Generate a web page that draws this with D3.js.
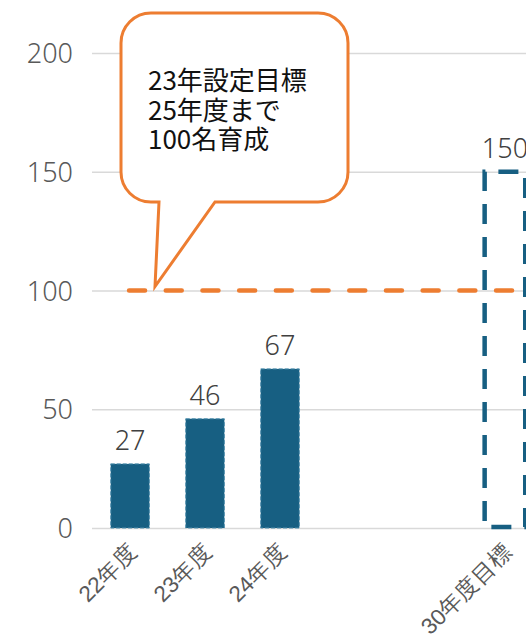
<!DOCTYPE html>
<html>
<head>
<meta charset="utf-8">
<script src="https://cdn.jsdelivr.net/npm/d3@7"></script>
<style>
  body { margin: 0; background: #fff; }
  svg { display: block; font-family: "Noto Sans CJK JP", "Noto Sans", sans-serif; }
  .num { font-family: "Noto Sans", "Noto Sans CJK JP", sans-serif; }
</style>
</head>
<body>
<div id="chart"></div>
<script>
// categories on the x axis (two empty slots between 24 and 30)
const categories = ['22年度', '23年度', '24年度', 'gap1', 'gap2', '30年度目標'];
const tickLabels = ['22年度', '23年度', '24年度', '', '', '30年度目標'];

// actual results
const actualCats = ['22年度', '23年度', '24年度'];
const actualValues = [27, 46, 67];

// target bar
const targetCats = ['30年度目標'];
const targetValues = [150];

// goal line + callout
const goalValue = 100;
const calloutLines = ['23年設定目標', '25年度まで', '100名育成'];

const yTicks = [0, 50, 100, 150, 200];

const width = 526;
const height = 634;

const svg = d3.select('#chart')
    .append('svg')
    .attr('width', width)
    .attr('height', height);

const y = d3.scaleLinear()
    .domain([0, 200])
    .range([528, 53]);

const x = d3.scaleBand()
    .domain(categories)
    .range([92, 543])
    .paddingInner(0.485)
    .paddingOuter(0.25);

// gridlines + y labels
const yAxis = svg.append('g')
    .attr('transform', 'translate(92,0)')
    .call(d3.axisLeft(y).tickValues(yTicks).tickSize(-(width - 92)).tickPadding(19));
yAxis.select('.domain').remove();
yAxis.selectAll('.tick line')
    .attr('stroke', '#d9d9d9')
    .attr('stroke-width', 1.5);
yAxis.selectAll('.tick text')
    .attr('class', 'num')
    .attr('fill', '#595959')
    .attr('font-size', '27px')
    .attr('font-weight', 300)
    .attr('dy', '0.36em');

// x labels, rotated
const xAxis = svg.append('g')
    .attr('transform', `translate(0,${y(0)})`)
    .call(d3.axisBottom(x).tickSize(0).tickFormat((d, i) => tickLabels[i]));
xAxis.select('.domain').remove();
xAxis.selectAll('.tick text')
    .attr('fill', '#595959')
    .attr('font-size', '22.5px')
    .attr('font-weight', 300)
    .attr('text-anchor', 'end')
    .attr('dy', 0)
    .attr('transform', 'translate(6,23) rotate(-45)');

// actual bars
svg.selectAll('.bar')
    .data(actualCats.map((c, i) => ({ c, v: actualValues[i] })))
    .enter().append('rect')
    .attr('class', 'bar')
    .attr('x', d => x(d.c))
    .attr('y', d => y(d.v))
    .attr('width', x.bandwidth())
    .attr('height', d => y(0) - y(d.v))
    .attr('fill', '#175f82')
    .attr('stroke', '#4f8fae')
    .attr('stroke-width', 1)
    .attr('stroke-dasharray', '4,2');

// target bar (dashed outline only), drawn from bottom-left going up
svg.selectAll('.target')
    .data(targetCats.map((c, i) => ({ c, v: targetValues[i] })))
    .enter().append('path')
    .attr('class', 'target')
    .attr('d', d => {
        const x0 = x(d.c) - 1, x1 = x(d.c) + x.bandwidth() + 1;
        const yt = y(d.v), yb = y(0) - 1;
        return `M${x0},${yb}L${x0},${yt}L${x1},${yt}L${x1},${yb}Z`;
    })
    .attr('fill', 'none')
    .attr('stroke', '#175f82')
    .attr('stroke-width', 4.5)
    .attr('stroke-dasharray', '20,13')
    .attr('stroke-dashoffset', 27);

// value labels
const allLabels = actualCats.map((c, i) => ({ c, v: actualValues[i] }))
    .concat(targetCats.map((c, i) => ({ c, v: targetValues[i] })));
svg.selectAll('.val')
    .data(allLabels)
    .enter().append('text')
    .attr('class', 'val num')
    .attr('x', d => x(d.c) + x.bandwidth() / 2)
    .attr('y', d => y(d.v) - 14)
    .attr('text-anchor', 'middle')
    .attr('font-size', '27px')
    .attr('font-weight', 300)
    .attr('fill', '#404040')
    .text(d => d.v);

// goal line
const lineX0 = x(categories[0]) + x.bandwidth() / 2 - 1;
svg.append('line')
    .attr('x1', lineX0)
    .attr('x2', width + 10)
    .attr('y1', y(goalValue))
    .attr('y2', y(goalValue))
    .attr('stroke', '#ed7d31')
    .attr('stroke-width', 4.5)
    .attr('stroke-linecap', 'round')
    .attr('stroke-dasharray', '16,20.7');

// callout bubble
const tipY = y(goalValue) - 4;
const bx0 = 121, bx1 = 348, by0 = 13, by1 = 202, r = 30;
const px0 = 159, px1 = 215;
const tipX = 155;
const bubble = d3.path();
bubble.moveTo(bx0 + r, by0);
bubble.lineTo(bx1 - r, by0);
bubble.arcTo(bx1, by0, bx1, by0 + r, r);
bubble.lineTo(bx1, by1 - r);
bubble.arcTo(bx1, by1, bx1 - r, by1, r);
bubble.lineTo(px1, by1);
bubble.lineTo(tipX, tipY);
bubble.lineTo(px0, by1);
bubble.lineTo(bx0 + r, by1);
bubble.arcTo(bx0, by1, bx0, by1 - r, r);
bubble.lineTo(bx0, by0 + r);
bubble.arcTo(bx0, by0, bx0 + r, by0, r);
bubble.closePath();
svg.append('path')
    .attr('d', bubble.toString())
    .attr('fill', '#fff')
    .attr('stroke', '#ed7d31')
    .attr('stroke-width', 3)
    .attr('stroke-linejoin', 'miter');

svg.append('g').selectAll('text')
    .data(calloutLines)
    .enter().append('text')
    .attr('x', 148)
    .attr('y', (d, i) => 90 + i * 29.5)
    .attr('font-size', '26px')
    .attr('fill', '#111')
    .text(d => d);
</script>
</body>
</html>
